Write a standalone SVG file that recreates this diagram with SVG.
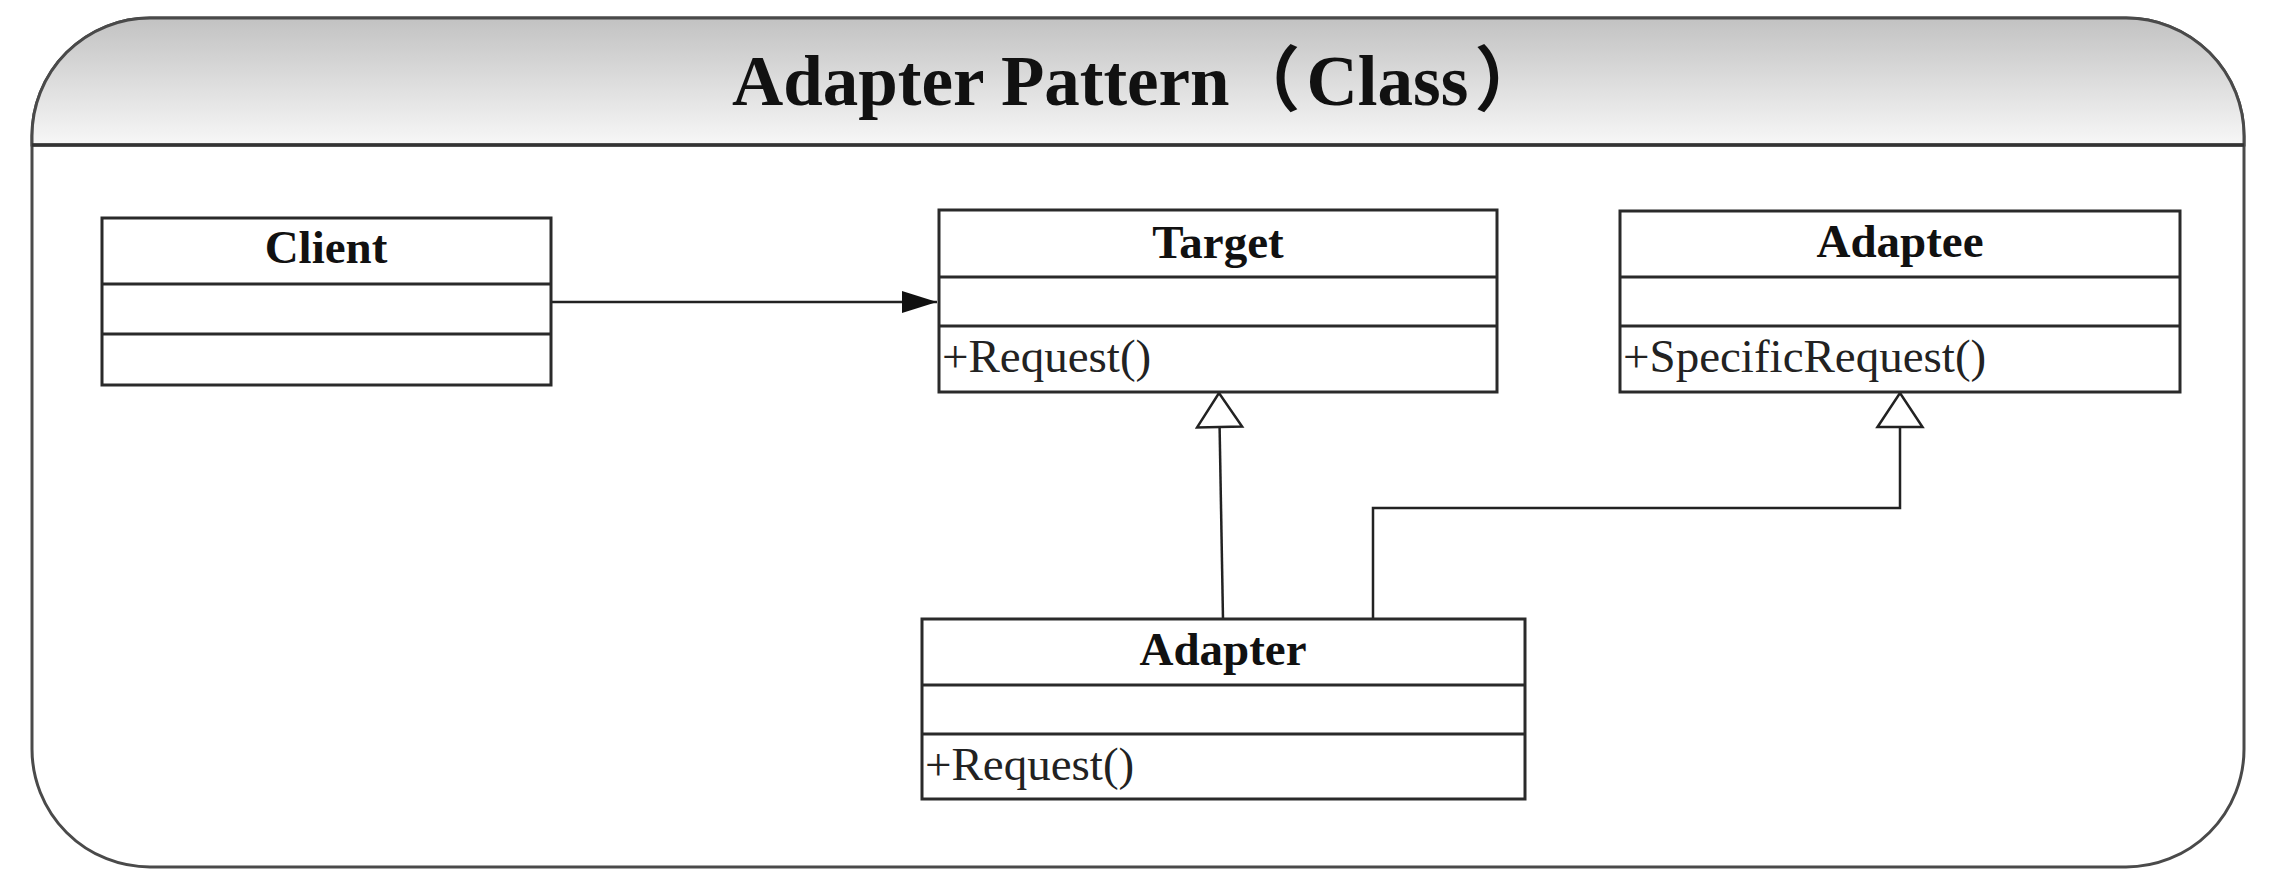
<svg xmlns="http://www.w3.org/2000/svg" width="2274" height="889" viewBox="0 0 2274 889">
  <style>
    .frame { fill: #ffffff; stroke: #4a4a4a; stroke-width: 3; }
    .hdrline { stroke: #333333; stroke-width: 3.5; fill: none; }
    .box { fill: #ffffff; stroke: #2a2a2a; stroke-width: 3; }
    .sep { stroke: #2a2a2a; stroke-width: 3; fill: none; }
    .name { font-family: "Liberation Serif", "Times New Roman", serif; font-weight: bold; font-size: 47px; fill: #111111; text-anchor: middle; }
    .member { font-family: "Liberation Serif", "Times New Roman", serif; font-size: 47px; fill: #222222; }
    .title { font-family: "Liberation Serif", "Noto Sans CJK SC", serif; font-weight: bold; font-size: 71px; fill: #111111; }
    .conn { stroke: #222222; stroke-width: 2.5; fill: none; }
  </style>
  <defs>
    <linearGradient id="hdrGrad" x1="0" y1="0" x2="0" y2="1">
      <stop offset="0" stop-color="#c2c2c2"/>
      <stop offset="1" stop-color="#f7f7f7"/>
    </linearGradient>
    <marker id="filledArrow" markerUnits="userSpaceOnUse" markerWidth="40" markerHeight="30" refX="35" refY="11" orient="auto" overflow="visible">
      <path d="M0,0 L35,11 L0,22 Z" fill="#111111"/>
    </marker>
    <marker id="hollowTri" markerUnits="userSpaceOnUse" markerWidth="40" markerHeight="50" refX="34" refY="0" orient="auto" overflow="visible">
      <path d="M0,-22.5 L34,0 L0,22.5 Z" fill="#ffffff" stroke="#222222" stroke-width="2.5" stroke-linejoin="miter"/>
    </marker>
  </defs>

  <g id="frame">
    <rect class="frame" x="32" y="18" width="2212" height="849" rx="118" ry="118"/>
    <path d="M32,145 L32,136 A118,118 0 0 1 150,18 L2126,18 A118,118 0 0 1 2244,136 L2244,145 Z" fill="url(#hdrGrad)" stroke="#4a4a4a" stroke-width="3"/>
    <line class="hdrline" x1="32" y1="145" x2="2244" y2="145"/>
    <text class="title" x="732" y="105">Adapter Pattern<tspan dx="0">（</tspan><tspan dx="6">Class</tspan><tspan dx="6">）</tspan></text>
  </g>

  <g id="connectors">
    <line class="conn" x1="551" y1="302" x2="937" y2="302" marker-end="url(#filledArrow)"/>
    <path class="conn" d="M1223,619 L1219,393" marker-end="url(#hollowTri)"/>
    <path class="conn" d="M1373,619 L1373,508 L1900,508 L1900,393" marker-end="url(#hollowTri)"/>
  </g>

  <g id="client">
    <rect class="box" x="102" y="218" width="449" height="167"/>
    <line class="sep" x1="102" y1="284" x2="551" y2="284"/>
    <line class="sep" x1="102" y1="334" x2="551" y2="334"/>
    <text class="name" x="326" y="263">Client</text>
  </g>

  <g id="target">
    <rect class="box" x="939" y="210" width="558" height="182"/>
    <line class="sep" x1="939" y1="277" x2="1497" y2="277"/>
    <line class="sep" x1="939" y1="326" x2="1497" y2="326"/>
    <text class="name" x="1218" y="258">Target</text>
    <text class="member" x="942" y="372">+Request()</text>
  </g>

  <g id="adaptee">
    <rect class="box" x="1620" y="211" width="560" height="181"/>
    <line class="sep" x1="1620" y1="277" x2="2180" y2="277"/>
    <line class="sep" x1="1620" y1="326" x2="2180" y2="326"/>
    <text class="name" x="1900" y="257">Adaptee</text>
    <text class="member" x="1623" y="372">+SpecificRequest()</text>
  </g>

  <g id="adapter">
    <rect class="box" x="922" y="619" width="603" height="180"/>
    <line class="sep" x1="922" y1="685" x2="1525" y2="685"/>
    <line class="sep" x1="922" y1="734" x2="1525" y2="734"/>
    <text class="name" x="1223" y="665">Adapter</text>
    <text class="member" x="925" y="780">+Request()</text>
  </g>
</svg>
